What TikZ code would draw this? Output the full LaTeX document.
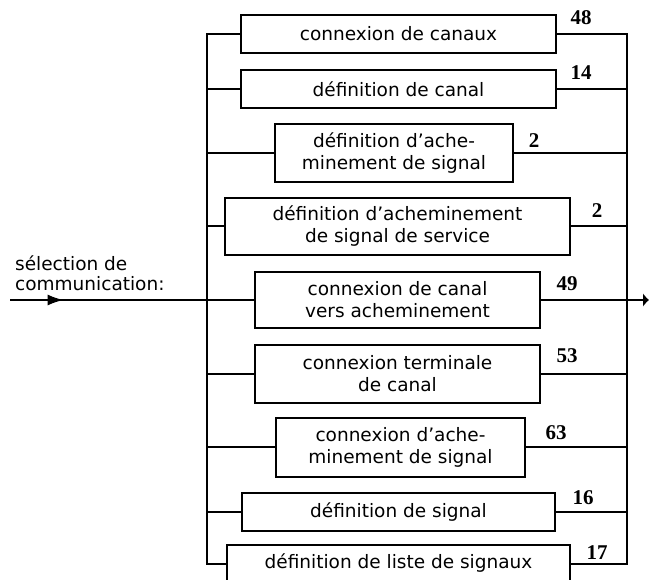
\documentclass[tikz,border=0pt]{standalone}
\usepackage{fontspec}
\setmainfont{DejaVu Sans}
\newfontfamily\numfont{Liberation Serif}
\usetikzlibrary{arrows.meta,decorations.markings}
\begin{document}
\begin{tikzpicture}[x=1pt,y=-1pt,
  lw/.style={line width=2pt},
  box/.style={draw,lw,inner sep=0pt,align=center,font=\fontsize{18.5}{22}\selectfont},
  num/.style={font=\numfont\bfseries\fontsize{21}{22}\selectfont,inner sep=0pt},
  lbl/.style={font=\fontsize{18.5}{20}\selectfont,align=left,inner sep=0pt,anchor=north west}]
\useasboundingbox (0,0) rectangle (649,580);
\clip (0,0) rectangle (649,580);
% boxes
\node[box,minimum width=315pt,minimum height=38pt] (b1) at (398.5,34) {connexion de canaux};
\node[box,minimum width=315pt,minimum height=38pt] (b2) at (398.5,89) {définition de canal};
\node[box,minimum width=238pt,minimum height=58pt] (b3) at (394,153) {définition d’ache-\\minement de signal};
\node[box,minimum width=345pt,minimum height=57pt] (b4) at (397.5,226.5) {définition d’acheminement\\de signal de service};
\node[box,minimum width=285pt,minimum height=56pt] (b5) at (397.5,300) {connexion de canal\\vers acheminement};
\node[box,minimum width=285pt,minimum height=58pt] (b6) at (397.5,374) {connexion terminale\\de canal};
\node[box,minimum width=249pt,minimum height=59pt] (b7) at (400.5,447.5) {connexion d’ache-\\minement de signal};
\node[box,minimum width=313pt,minimum height=38pt] (b8) at (398.5,512) {définition de signal};
\node[box,minimum width=343pt,minimum height=37pt] (b9) at (398.5,563.5) {définition de liste de signaux};
% numbers
\node[num] (n1) at (581,18) {48};
\node[num] (n2) at (581,73) {14};
\node[num] (n3) at (534,141) {2};
\node[num] (n4) at (597,211) {2};
\node[num] (n5) at (567,284) {49};
\node[num] (n6) at (567,356) {53};
\node[num] (n7) at (556,433) {63};
\node[num] (n8) at (583,498) {16};
\node[num] (n9) at (597,553) {17};
% input label
\node[lbl] (lab) at (15,256) {sélection de\\communication:};
% bus coordinates
\coordinate (LT) at (207,34);
\coordinate (LB) at (207,563.5);
\coordinate (RT) at (627,34);
\coordinate (RB) at (627,563.5);
\coordinate (in) at (10,300);
\coordinate (out) at (649,300);
% buses
\draw[lw] (b1.west) -- (LT) -- (LB) -- (b9.west);
\draw[lw] (b1.east) -- (RT) -- (RB) -- (b9.east);
\foreach \b in {b2,b3,b4,b6,b7,b8}{
  \draw[lw] (\b.west) -- (\b.west -| LT);
  \draw[lw] (\b.east) -- (\b.east -| RT);
}
% input and output
\draw[lw,postaction={decorate,decoration={markings,mark=at position 0.22 with {\arrow{Latex[length=16pt,width=11pt]}}}}] (in) -- (b5.west);
\draw[lw,-{Latex[length=6pt,width=14pt]}] (b5.east) -- (out);
\end{tikzpicture}
\end{document}
